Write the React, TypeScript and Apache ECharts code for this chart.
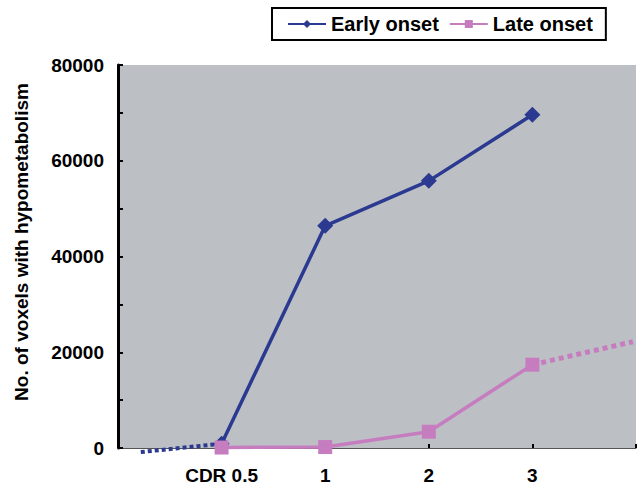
import React, { useEffect, useRef } from "react";
import * as echarts from "echarts";

const categories = ["CDR 0.5", "1", "2", "3"];
const categoryPos = [1, 2, 3, 4];
const earlyOnset = [900, 46400, 55800, 69600];
const lateOnset = [100, 200, 3400, 17400];
const earlyExtension = [
  [0.22, -850],
  [1, 900],
];
const lateExtension = [
  [4, 17400],
  [4.97, 22200],
];
const yTicks = [0, 20000, 40000, 60000, 80000];
const yTitle = "No. of voxels with hypometabolism";

const EARLY = "#2b3990";
const LATE = "#c67dc0";
const FONT = "Arial, 'Liberation Sans', sans-serif";

export default function App() {
  const ref = useRef<HTMLDivElement>(null);
  useEffect(() => {
    const chart = echarts.init(ref.current!, null, { renderer: "svg" });
    chart.setOption({
      animation: false,
      legend: {
        data: ["Early onset", "Late onset"],
        left: 272,
        top: 8,
        borderColor: "#000",
        borderWidth: 2,
        padding: [6, 13, 6, 15],
        itemGap: 10,
        itemWidth: 38,
        itemHeight: 10,
        textStyle: { fontFamily: FONT, fontSize: 20, fontWeight: "bold", color: "#000" },
      },
      graphic: [
        {
          type: "text",
          x: 21,
          y: 242,
          rotation: Math.PI / 2,
          style: {
            text: yTitle,
            fontFamily: FONT,
            fontSize: 19,
            fontWeight: "bold",
            fill: "#000",
            align: "center",
            verticalAlign: "middle",
          },
        },
      ],
      grid: {
        left: 118,
        top: 65,
        bottom: 43,
        width: 525,
        show: true,
        backgroundColor: "#bcc0c4",
        borderWidth: 0,
      },
      xAxis: {
        type: "value",
        min: 0,
        max: 5,
        interval: 1,
        axisLine: { show: true, lineStyle: { color: "#555", width: 1 } },
        axisTick: { show: true, inside: true, length: 4, lineStyle: { color: "#000", width: 2 } },
        splitLine: { show: false },
        axisLabel: {
          margin: 18,
          fontFamily: FONT,
          fontSize: 19,
          fontWeight: "bold",
          color: "#000",
          formatter: (v: number) => {
            const i = categoryPos.indexOf(v);
            return i >= 0 ? categories[i] : "";
          },
        },
      },
      yAxis: {
        type: "value",
        min: yTicks[0],
        max: yTicks[yTicks.length - 1],
        interval: 20000,
        axisLine: { show: true, lineStyle: { color: "#000", width: 3 } },
        axisTick: { show: true, inside: true, length: 5, lineStyle: { color: "#000", width: 2 } },
        minorTick: { show: true, splitNumber: 2, length: 5, lineStyle: { color: "#000", width: 2 } },
        splitLine: { show: false },
        axisLabel: {
          margin: 14,
          fontFamily: FONT,
          fontSize: 19,
          fontWeight: "bold",
          color: "#000",
          formatter: (v: number) => String(v),
        },
      },
      series: [
        {
          name: "early-ext",
          type: "line",
          data: earlyExtension,
          clip: false,
          symbol: "none",
          lineStyle: { color: EARLY, width: 4, type: [4, 3] },
          z: 1,
        },
        {
          name: "late-ext",
          type: "line",
          data: lateExtension,
          clip: false,
          symbol: "none",
          lineStyle: { color: LATE, width: 5, type: [5, 4] },
          z: 1,
        },
        {
          name: "Early onset",
          type: "line",
          data: categoryPos.map((x, i) => [x, earlyOnset[i]]),
          symbol: "diamond",
          symbolSize: 16,
          clip: false,
          itemStyle: { color: EARLY },
          lineStyle: { color: EARLY, width: 3.5 },
          z: 3,
        },
        {
          name: "Late onset",
          type: "line",
          data: categoryPos.map((x, i) => [x, lateOnset[i]]),
          symbol: "rect",
          symbolSize: 14,
          clip: false,
          itemStyle: { color: LATE },
          lineStyle: { color: LATE, width: 3.5 },
          z: 4,
        },
      ],
    });
    return () => chart.dispose();
  }, []);
  return <div ref={ref} style={{ width: 639, height: 491, position: "absolute", left: 0, top: 0 }} />;
}
